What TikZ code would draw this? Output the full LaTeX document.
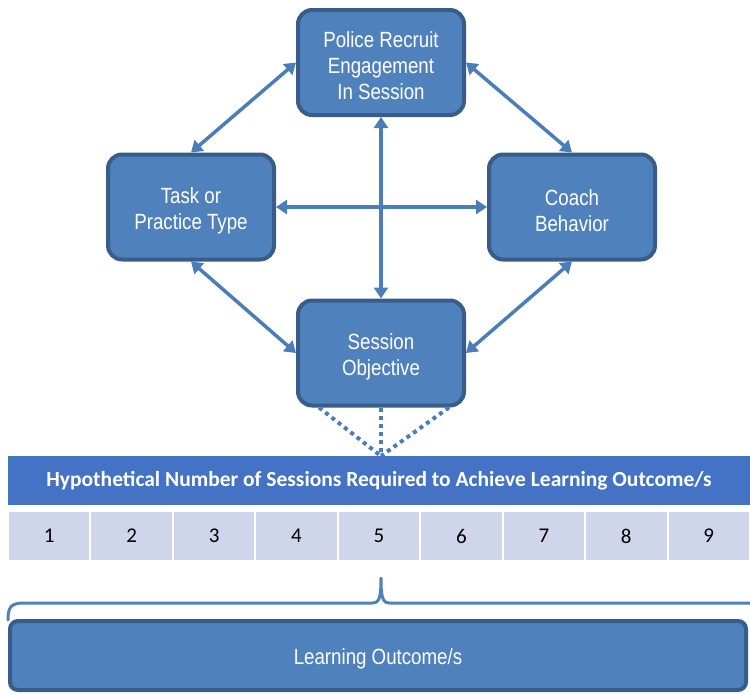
\documentclass[tikz,border=0pt]{standalone}
\usepackage{fontspec}
\setmainfont{Liberation Sans}
\newfontfamily\calfont{Carlito}
\usetikzlibrary{calc,arrows.meta}
\definecolor{boxfill}{HTML}{4F81BD}
\definecolor{boxline}{HTML}{385D8A}
\definecolor{arrowc}{HTML}{4A7EBB}
\definecolor{bannerc}{HTML}{4472C4}
\definecolor{cellc}{HTML}{CFD5EA}
\newcommand{\nar}[1]{\raisebox{-3.5pt}[\height][\depth]{\scalebox{0.85}[1]{#1}}}
\begin{document}
\begin{tikzpicture}[x=1pt,y=-1pt,
  box/.style={draw=boxline, fill=boxfill, line width=4pt, rounded corners=14pt,
    minimum width=166pt, minimum height=105pt, text=white, align=center,
    font=\fontsize{22}{26}\selectfont, inner sep=0pt},
  link/.style={draw=arrowc, line width=3.5pt,
    {Triangle[width=14pt,length=11pt]}-{Triangle[width=14pt,length=11pt]}},
  dots/.style={draw=arrowc, line width=4pt, dash pattern=on 4pt off 4pt},
  bannerbox/.style={fill=bannerc, text=white, minimum width=742pt, minimum height=49pt,
    inner sep=0pt, font=\calfont\bfseries\fontsize{21.5}{24}\selectfont},
  cell/.style={fill=cellc, draw=white, line width=2pt, minimum width=82.44pt,
    minimum height=50pt, inner sep=0pt, font=\calfont\fontsize{21}{24}\selectfont},
  outbox/.style={draw=boxline, fill=boxfill, line width=4pt, rounded corners=8pt,
    minimum width=736pt, minimum height=69pt, text=white, inner sep=0pt,
    font=\fontsize{22}{24}\selectfont},
  brace/.style={draw=boxfill, line width=3pt, line cap=round, line join=round}
]
\useasboundingbox (0,0) rectangle (750,694);

\node[box] (top) at (381,62.5) {\nar{Police Recruit}\\\nar{Engagement}\\\nar{In Session}};
\node[box] (left) at (191,207) {\nar{Task or}\\\nar{Practice Type}};
\node[box] (right) at (572,207) {\nar{Coach}\\\nar{Behavior}};
\node[box] (bot) at (381,353) {\nar{Session}\\\nar{Objective}};

\draw[link] (left.north) -- (top.west);
\draw[link] (top.east) -- (right.north);
\draw[link] (left.east) -- (right.west);
\draw[link] (top.south) -- (bot.north);
\draw[link] (left.south) -- (bot.west);
\draw[link] (right.south) -- (bot.east);

\coordinate (apex) at (381,456);
\draw[dots] ($(bot.south)+(-62,0)$) -- (apex);
\draw[dots] (bot.south) -- (apex);
\draw[dots] ($(bot.south)+(68,0)$) -- (apex);

\node[bannerbox] (banner) at (379,480.5) {Hypothetical Number of Sessions Required to Achieve Learning Outcome/s};

\foreach \i in {1,...,9}
  \node[cell] (c\i) at ({8+(\i-0.5)*82.44},536) {\i};

\draw[brace] (8,620) .. controls (8,607) and (11,603) .. (24,603) -- (372,603)
  .. controls (379,603) and (381,599) .. (381,578)
  .. controls (381,599) and (383,603) .. (390,603) -- (752,603);

\node[outbox] (out) at (378,655.5) {\nar{Learning Outcome/s}};
\end{tikzpicture}
\end{document}
